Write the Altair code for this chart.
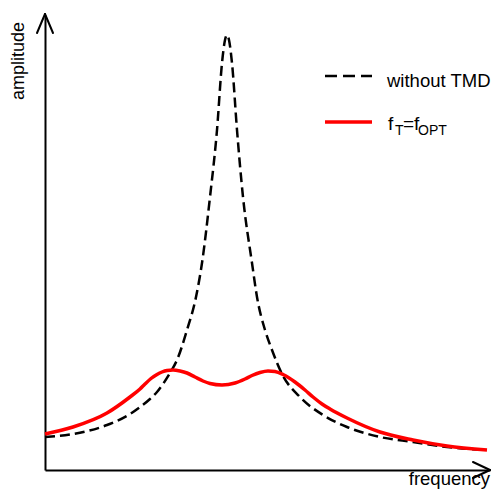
import altair as alt
import pandas as pd

# Data in plot units (x: frequency, y: amplitude); origin at the axes corner
freq_black = [0, 28, 62, 85, 95, 105, 112, 118, 125, 132, 142, 151, 157, 165, 172, 177, 180, 182, 184, 187, 192, 198, 207, 212, 220, 227, 237, 255, 278, 302, 335, 368, 402, 442]
amp_black = [33, 36, 45, 56, 63, 71, 78, 86, 97, 110, 140, 173, 207, 273, 340, 407, 430, 435, 430, 407, 340, 273, 207, 173, 140, 120, 96, 73, 55, 43, 33, 28, 23, 20]

freq_red = [0, 28, 62, 85, 95, 100, 106, 112, 117, 122, 128, 135, 142, 150, 158, 165, 177, 190, 200, 207, 215, 223, 230, 238, 250, 260, 268, 277, 285, 302, 335, 368, 402, 442]
amp_red = [36, 43, 57, 73, 81, 86, 91.5, 95.5, 98, 99.5, 100, 99, 97, 93, 89, 86.5, 85, 87, 91, 94.5, 97.5, 99, 98.5, 95.5, 88, 80, 73, 66, 61, 52, 38, 30, 24, 20]

legend_labels = ["without TMD", "f_T=f_OPT"]

W, H = 445, 455
X_DOM = [0, W]
Y_DOM = [0, H]

xs = alt.Scale(domain=X_DOM, nice=False, zero=False)
ys = alt.Scale(domain=Y_DOM, nice=False, zero=False)

df_b = pd.DataFrame({"f": freq_black, "a": amp_black})
df_r = pd.DataFrame({"f": freq_red, "a": amp_red})

FONT = "Liberation Sans"

black = alt.Chart(df_b).mark_line(
    color="black", strokeWidth=2.5, strokeDash=[10, 5], interpolate="monotone"
).encode(
    x=alt.X("f:Q", scale=xs, axis=alt.Axis(domain=True, domainColor="black", domainWidth=2,
                                           ticks=False, labels=False, grid=False, title=None)),
    y=alt.Y("a:Q", scale=ys, axis=alt.Axis(domain=True, domainColor="black", domainWidth=2,
                                           ticks=False, labels=False, grid=False, title=None)),
)

red = alt.Chart(df_r).mark_line(
    color="#ff0000", strokeWidth=3.5, interpolate="monotone"
).encode(x=alt.X("f:Q", scale=xs), y=alt.Y("a:Q", scale=ys))

# arrowheads
arrows = pd.DataFrame({
    "x": [0, 0, W, W],
    "y": [456, 456, 0, 0],
    "x2": [-8, 8, W - 17, W - 17],
    "y2": [437, 437, 8, -8],
})
arrow_marks = alt.Chart(arrows).mark_rule(color="black", strokeWidth=2, strokeCap="round").encode(
    x=alt.X("x:Q", scale=xs), y=alt.Y("y:Q", scale=ys), x2="x2:Q", y2="y2:Q"
)

# legend samples
leg = pd.DataFrame({"x": [280, 280], "x2": [327, 327], "y": [394, 348], "k": legend_labels})
leg_black = alt.Chart(leg.iloc[[0]]).mark_rule(color="black", strokeWidth=2.5, strokeDash=[12, 6]).encode(
    x=alt.X("x:Q", scale=xs), x2="x2:Q", y=alt.Y("y:Q", scale=ys)
)
leg_red = alt.Chart(leg.iloc[[1]]).mark_rule(color="#ff0000", strokeWidth=3.5).encode(
    x=alt.X("x:Q", scale=xs), x2="x2:Q", y=alt.Y("y:Q", scale=ys)
)

tmd_txt = pd.DataFrame({"x": [342], "y": [383], "t": ["without TMD"]})
big_txt = pd.DataFrame({"x": [343, 358], "y": [340, 340], "t": ["f", "=f"]})
small_txt = pd.DataFrame({"x": [350, 373], "y": [335, 335], "t": ["T", "OPT"]})

t_tmd = alt.Chart(tmd_txt).mark_text(align="left", baseline="alphabetic", fontSize=18.5, font=FONT, color="black").encode(
    x=alt.X("x:Q", scale=xs), y=alt.Y("y:Q", scale=ys), text="t:N"
)
t_big = alt.Chart(big_txt).mark_text(align="left", baseline="alphabetic", fontSize=19, font=FONT, color="black").encode(
    x=alt.X("x:Q", scale=xs), y=alt.Y("y:Q", scale=ys), text="t:N"
)
t_small = alt.Chart(small_txt).mark_text(align="left", baseline="alphabetic", fontSize=14, font=FONT, color="black").encode(
    x=alt.X("x:Q", scale=xs), y=alt.Y("y:Q", scale=ys), text="t:N"
)

ytitle = alt.Chart(pd.DataFrame({"x": [-21], "y": [370], "t": ["amplitude"]})).mark_text(
    align="left", baseline="alphabetic", angle=270, fontSize=18, font=FONT, color="black"
).encode(x=alt.X("x:Q", scale=xs), y=alt.Y("y:Q", scale=ys), text="t:N")

xtitle = alt.Chart(pd.DataFrame({"x": [W], "y": [-15], "t": ["frequency"]})).mark_text(
    align="right", baseline="alphabetic", fontSize=18.5, font=FONT, color="black"
).encode(x=alt.X("x:Q", scale=xs), y=alt.Y("y:Q", scale=ys), text="t:N")

chart = alt.layer(
    black, red, arrow_marks, leg_black, leg_red, t_tmd, t_big, t_small, ytitle, xtitle
).properties(
    width=W, height=H,
    autosize=alt.AutoSizeParams(type="none"),
    padding={"left": 37, "top": 7, "right": 1, "bottom": 19},
).configure_view(stroke=None)

chart.save("out.html", embed_options={"renderer": "svg", "actions": False})
